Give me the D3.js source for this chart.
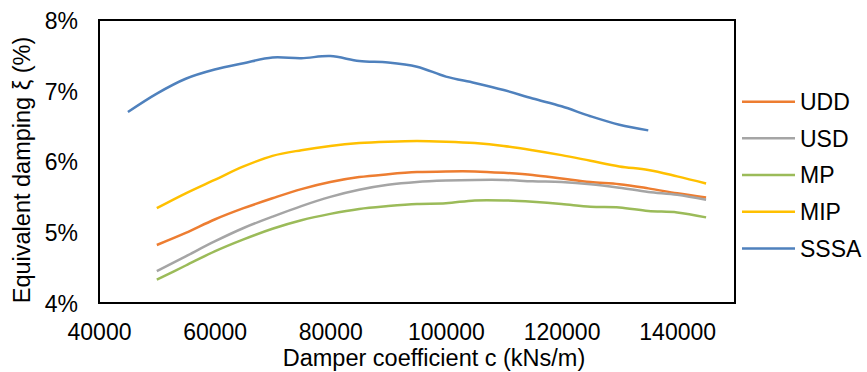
<!DOCTYPE html>
<html>
<head>
<meta charset="utf-8">
<script src="https://cdn.jsdelivr.net/npm/d3@7"></script>
<style>
  body { margin: 0; background: #fff; }
  svg text { font-family: "Liberation Sans", Arial, sans-serif; fill: #000; }
</style>
</head>
<body>
<svg id="chart" width="867" height="372"></svg>
<script>
// damper coefficient (kNs/m) for each sample
const cFull = [50000, 55000, 60000, 65000, 70000, 75000, 80000, 85000, 90000, 95000,
               100000, 105000, 110000, 115000, 120000, 125000, 130000, 135000, 140000, 145000];
const cSSSA = [45000, 50000, 55000, 60000, 65000, 70000, 75000, 80000, 85000, 90000,
               95000, 100000, 105000, 110000, 115000, 120000, 125000, 130000, 135000];

// equivalent damping (%)
const udd  = [4.82, 4.99, 5.18, 5.34, 5.48, 5.61, 5.71, 5.78, 5.82, 5.85,
              5.86, 5.86, 5.84, 5.81, 5.76, 5.71, 5.68, 5.62, 5.55, 5.49];
const usd  = [4.45, 4.66, 4.87, 5.06, 5.22, 5.37, 5.50, 5.60, 5.67, 5.71,
              5.73, 5.74, 5.74, 5.72, 5.71, 5.68, 5.63, 5.57, 5.53, 5.46];
const mp   = [4.33, 4.53, 4.73, 4.90, 5.05, 5.17, 5.26, 5.33, 5.37, 5.40,
              5.41, 5.45, 5.45, 5.43, 5.40, 5.36, 5.35, 5.30, 5.28, 5.21];
const mip  = [5.34, 5.55, 5.74, 5.93, 6.08, 6.16, 6.22, 6.26, 6.28, 6.29,
              6.28, 6.26, 6.22, 6.16, 6.09, 6.01, 5.93, 5.88, 5.79, 5.69];
const sssa = [6.70, 6.96, 7.17, 7.30, 7.39, 7.47, 7.46, 7.49, 7.42, 7.40,
              7.34, 7.20, 7.11, 7.01, 6.89, 6.78, 6.64, 6.52, 6.44];

const seriesNames  = ["UDD", "USD", "MP", "MIP", "SSSA"];
const seriesColors = ["#ED7D31", "#A5A5A5", "#9BBB59", "#FFC000", "#4F81BD"];
const xTicks = [40000, 60000, 80000, 100000, 120000, 140000];
const yTicks = [4, 5, 6, 7, 8];

const series = [
  {name: "UDD",  xs: cFull, ys: udd},
  {name: "USD",  xs: cFull, ys: usd},
  {name: "MP",   xs: cFull, ys: mp},
  {name: "MIP",  xs: cFull, ys: mip},
  {name: "SSSA", xs: cSSSA, ys: sssa}
];

const svg = d3.select("#chart");
const plot = {left: 99, right: 735, top: 20, bottom: 303};

const x = d3.scaleLinear().domain([40000, 150000]).range([plot.left, plot.right]);
const y = d3.scaleLinear().domain([4, 8]).range([plot.bottom, plot.top]);
const color = d3.scaleOrdinal().domain(seriesNames).range(seriesColors);

// lines first, frame on top
const line = d3.line()
  .x(d => x(d[0]))
  .y(d => y(d[1]))
  .curve(d3.curveCatmullRom.alpha(0.5));

svg.append("g")
  .selectAll("path")
  .data(series)
  .join("path")
  .attr("fill", "none")
  .attr("stroke", d => color(d.name))
  .attr("stroke-width", 2.5)
  .attr("d", d => line(d.xs.map((v, i) => [v, d.ys[i]])));

svg.append("rect")
  .attr("x", plot.left)
  .attr("y", plot.top)
  .attr("width", plot.right - plot.left)
  .attr("height", plot.bottom - plot.top)
  .attr("fill", "none")
  .attr("stroke", "#000")
  .attr("stroke-width", 2);

// axes, no tick marks
const xAxis = svg.append("g")
  .attr("transform", `translate(0,${plot.bottom})`)
  .call(d3.axisBottom(x).tickValues(xTicks).tickSize(0).tickPadding(0).tickFormat(d3.format("d")));
xAxis.select(".domain").remove();
xAxis.selectAll("text")
  .attr("y", 37)
  .attr("dy", null)
  .style("font-size", "23px");

const yAxis = svg.append("g")
  .attr("transform", `translate(${plot.left},0)`)
  .call(d3.axisLeft(y).tickValues(yTicks).tickSize(0).tickPadding(0).tickFormat(d => d + "%"));
yAxis.select(".domain").remove();
yAxis.selectAll("text")
  .attr("x", -21)
  .attr("dy", "0.36em")
  .style("font-size", "23px");
svg.selectAll("g").attr("font-family", null).attr("font-size", null);

// axis titles
svg.append("text")
  .attr("x", 434)
  .attr("y", 366)
  .attr("text-anchor", "middle")
  .style("font-size", "23.5px")
  .text("Damper coefficient c (kNs/m)");

svg.append("text")
  .attr("transform", "translate(30,170) rotate(-90)")
  .attr("text-anchor", "middle")
  .style("font-size", "23.5px")
  .text("Equivalent damping ξ (%)");

// legend
const legend = svg.append("g")
  .selectAll("g")
  .data(seriesNames)
  .join("g")
  .attr("transform", (d, i) => `translate(742,${101.7 + i * 36.67})`);

legend.append("line")
  .attr("x1", 0).attr("x2", 53)
  .attr("stroke", d => color(d))
  .attr("stroke-width", 2.5);

legend.append("text")
  .attr("x", 58)
  .attr("dy", "0.36em")
  .style("font-size", "23px")
  .text(d => d);
</script>
</body>
</html>
